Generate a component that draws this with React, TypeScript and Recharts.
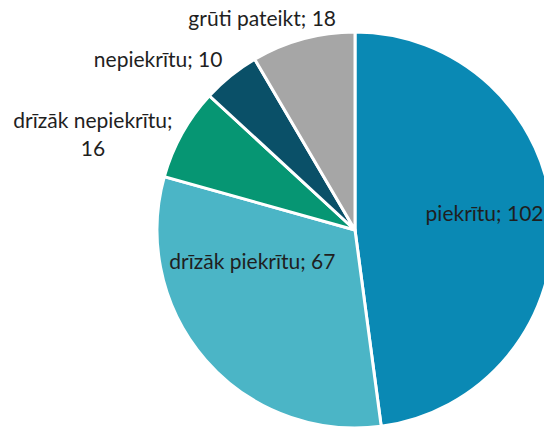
import { Cell, Pie, PieChart } from "recharts";

const categories = ["piekrītu", "drīzāk piekrītu", "drīzāk nepiekrītu", "nepiekrītu", "grūti pateikt"];
const values = [102, 67, 16, 10, 18];
const colors = ["#0A89B4", "#4BB5C6", "#069673", "#0A5068", "#A6A6A6"];

// label placement: radius factor of outer radius + angle nudge (deg, clockwise)
const labelRadius = [0.66, 0.54, 1.41, 1.32, 1.17];
const labelNudge = [-3.7, 24.6, -9, -10, -8.4];

const data = categories.map((name, i) => ({ name, value: values[i] }));

const RAD = Math.PI / 180;

function renderLabel(props: any) {
  const { cx, cy, midAngle, outerRadius, index, name, value } = props;
  const clockwise = 90 - midAngle + labelNudge[index];
  const r = outerRadius * labelRadius[index];
  const x = cx + r * Math.sin(clockwise * RAD);
  const y = cy - r * Math.cos(clockwise * RAD);
  const style = { fontFamily: "Lato, sans-serif", fontSize: 21, fill: "#1f1f1f" };
  if (index === 2) {
    return (
      <text x={x} y={y} textAnchor="middle" {...style}>
        <tspan x={x} dy={-14} dominantBaseline="central">{name};</tspan>
        <tspan x={x} dy={28} dominantBaseline="central">{value}</tspan>
      </text>
    );
  }
  return (
    <text x={x} y={y} textAnchor="middle" dominantBaseline="central" {...style}>
      {`${name}; ${value}`}
    </text>
  );
}

export default function App() {
  return (
    <div style={{ position: "absolute", left: 0, top: 0, width: 544, height: 427, background: "#fff" }}>
      <PieChart width={544} height={427} margin={{ top: 0, right: 0, bottom: 0, left: 0 }}>
        <Pie
          data={data}
          dataKey="value"
          nameKey="name"
          cx={355}
          cy={230}
          outerRadius={198}
          startAngle={90}
          endAngle={-270}
          stroke="#fff"
          strokeWidth={3}
          label={renderLabel}
          labelLine={false}
          isAnimationActive={false}
        >
          {data.map((d, i) => (
            <Cell key={d.name} fill={colors[i]} />
          ))}
        </Pie>
      </PieChart>
    </div>
  );
}
